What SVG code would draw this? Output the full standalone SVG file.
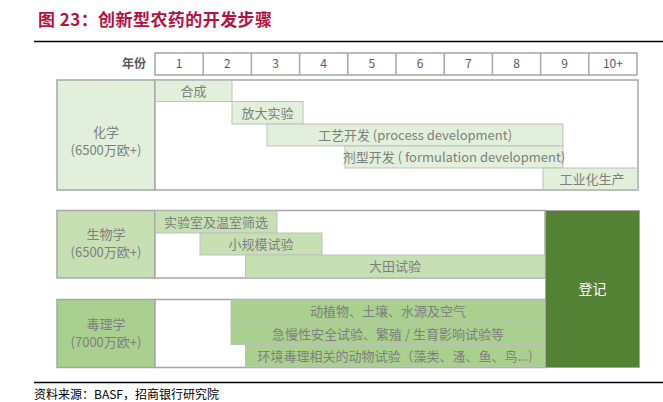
<svg xmlns="http://www.w3.org/2000/svg" width="663" height="402" viewBox="0 0 663 402">
<style>
.t{font-family:"Noto Sans CJK SC","Liberation Sans",sans-serif;}
.g{fill:#7f7f7f;font-size:13px;text-anchor:middle;}
.h{fill:#595959;font-size:12px;text-anchor:middle;}
.c1{fill:#e2efda;stroke:#bfbfbf;stroke-width:1;}
.c2{fill:#c6e0b4;stroke:#bfbfbf;stroke-width:1;}
.c3{fill:#a9d08e;stroke:#bfbfbf;stroke-width:1;}
.box{fill:#ffffff;stroke:#a6a6a6;stroke-width:1.5;}
.lab{stroke:#a6a6a6;stroke-width:1.5;}
</style>
<rect width="663" height="402" fill="#ffffff"/>
<text class="t" x="38" y="26" font-size="17" font-weight="bold" fill="#b5123f" textLength="234">图 23：创新型农药的开发步骤</text>
<line x1="34" y1="41.5" x2="663" y2="41.5" stroke="#000" stroke-width="1.5"/>

<g id="header">
<text class="t" x="146" y="68" font-size="12" font-weight="bold" fill="#595959" text-anchor="end">年份</text>
<rect class="box" x="155" y="53" width="482" height="22"/>
<g stroke="#a6a6a6" stroke-width="1.5">
<line x1="203.2" y1="53" x2="203.2" y2="75"/>
<line x1="251.4" y1="53" x2="251.4" y2="75"/>
<line x1="299.6" y1="53" x2="299.6" y2="75"/>
<line x1="347.8" y1="53" x2="347.8" y2="75"/>
<line x1="396" y1="53" x2="396" y2="75"/>
<line x1="444.2" y1="53" x2="444.2" y2="75"/>
<line x1="492.4" y1="53" x2="492.4" y2="75"/>
<line x1="540.6" y1="53" x2="540.6" y2="75"/>
<line x1="588.8" y1="53" x2="588.8" y2="75"/>
</g>
<text class="t h" x="179.1" y="68">1</text>
<text class="t h" x="227.3" y="68">2</text>
<text class="t h" x="275.5" y="68">3</text>
<text class="t h" x="323.7" y="68">4</text>
<text class="t h" x="371.9" y="68">5</text>
<text class="t h" x="420.1" y="68">6</text>
<text class="t h" x="468.3" y="68">7</text>
<text class="t h" x="516.5" y="68">8</text>
<text class="t h" x="564.7" y="68">9</text>
<text class="t h" x="612.9" y="68">10+</text>
</g>

<g id="chem">
<rect class="lab" x="57" y="80" width="98" height="110" fill="#e2efda"/>
<text class="t g" x="106" y="137">化学</text>
<text class="t g" x="106" y="155">(6500万欧+)</text>
<rect class="box" x="155" y="80" width="483" height="110"/>
<rect class="c1" x="155.5" y="80.5" width="76.5" height="21"/>
<text class="t g" x="193.5" y="96">合成</text>
<rect class="c1" x="232" y="101.5" width="71" height="22.5"/>
<text class="t g" x="267.5" y="118">放大实验</text>
<rect class="c1" x="267" y="124" width="296" height="22"/>
<text class="t g" x="415" y="140">工艺开发 (process development)</text>
<rect class="c1" x="345" y="146" width="218" height="22"/>
<text class="t g" x="454" y="162">剂型开发 ( formulation development)</text>
<rect class="c1" x="543" y="168" width="94.5" height="21.5"/>
<text class="t g" x="592" y="184">工业化生产</text>
</g>

<g id="bio">
<rect class="lab" x="57" y="210.5" width="98" height="67.5" fill="#c6e0b4"/>
<text class="t g" x="106" y="239">生物学</text>
<text class="t g" x="106" y="257">(6500万欧+)</text>
<rect class="box" x="155" y="210.5" width="390" height="67.5"/>
<rect class="c2" x="155.5" y="211" width="121.5" height="22"/>
<text class="t g" x="216" y="227">实验室及温室筛选</text>
<rect class="c2" x="200" y="233" width="122" height="22"/>
<text class="t g" x="261" y="249">小规模试验</text>
<rect class="c2" x="245.5" y="255" width="299.5" height="22.5"/>
<text class="t g" x="395" y="271">大田试验</text>
</g>

<g id="tox">
<rect class="lab" x="57" y="299.5" width="98" height="68" fill="#a9d08e"/>
<text class="t g" x="106" y="329">毒理学</text>
<text class="t g" x="106" y="347">(7000万欧+)</text>
<rect class="box" x="155" y="299.5" width="390" height="68"/>
<rect class="c3" x="231" y="300" width="314" height="22"/>
<text class="t g" x="388" y="316">动植物、土壤、水源及空气</text>
<rect class="c3" x="231" y="322" width="314" height="22.5"/>
<text class="t g" x="388" y="339">急慢性安全试验、繁殖 / 生育影响试验等</text>
<rect class="c3" x="245.5" y="344.5" width="299.5" height="22.5"/>
<text class="t g" x="395" y="361">环境毒理相关的动物试验（藻类、溞、鱼、鸟...)</text>
</g>

<g id="reg">
<rect x="545.5" y="210.5" width="94" height="157" fill="#548235" stroke="#a6a6a6" stroke-width="1"/>
<text class="t" x="592.5" y="294" font-size="14" fill="#ffffff" text-anchor="middle">登记</text>
</g>

<g id="connectors"></g>

<line x1="34" y1="382.5" x2="663" y2="382.5" stroke="#000" stroke-width="1.5"/>
<text class="t" x="34" y="399" font-size="12" fill="#000">资料来源：BASF，招商银行研究院</text>
</svg>
